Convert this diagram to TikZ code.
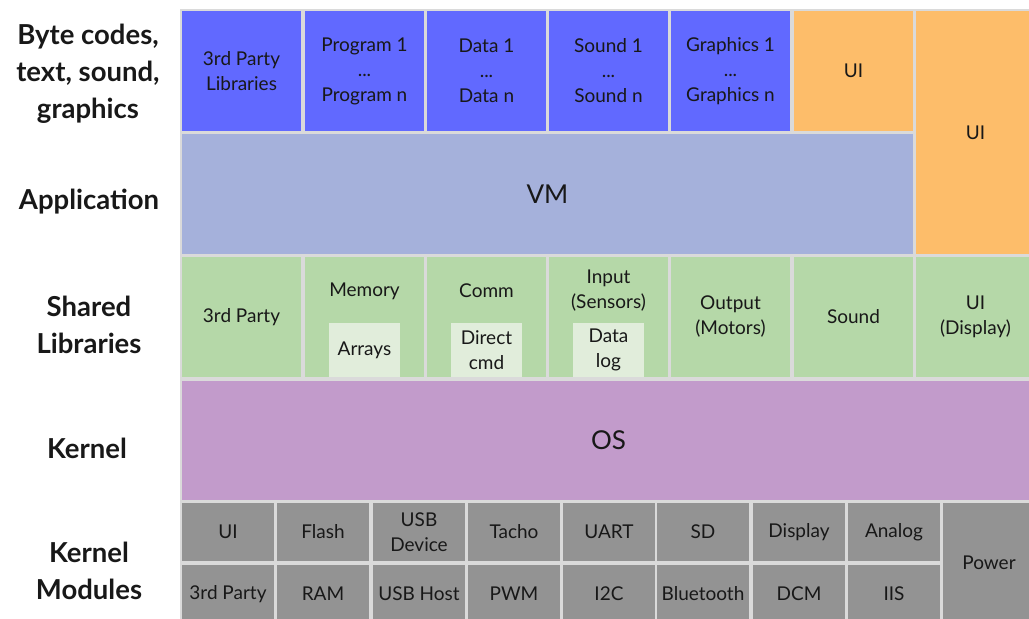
\documentclass[tikz,border=0pt]{standalone}
\usepackage{fontspec}
\setmainfont{Lato}
\usepackage{xcolor}
\usetikzlibrary{positioning}

\definecolor{framecol}{RGB}{218,218,218}
\definecolor{bytecol}{RGB}{97,105,255}
\definecolor{vmcol}{RGB}{165,177,219}
\definecolor{uicol}{RGB}{253,189,106}
\definecolor{libcol}{RGB}{181,216,168}
\definecolor{subcol}{RGB}{225,237,219}
\definecolor{oscol}{RGB}{194,155,203}
\definecolor{modcol}{RGB}{147,147,147}
\definecolor{inkcol}{RGB}{24,24,24}

\tikzset{
  cell/.style={inner sep=0pt, minimum width=119pt, minimum height=120pt,
    align=center, text=inkcol, font=\fontsize{19}{25}\selectfont},
  bytecell/.style={cell, fill=bytecol},
  uicell/.style={cell, fill=uicol},
  libcell/.style={cell, fill=libcol},
  subcell/.style={cell, fill=subcol, minimum width=71pt, minimum height=54pt},
  modcell/.style={cell, fill=modcol, minimum width=92pt, minimum height=58pt},
  celltext/.style={inner sep=0pt, align=center, text=inkcol,
    font=\fontsize{19}{25}\selectfont},
  bigtext/.style={font=\fontsize{26}{30}\selectfont},
  layer/.style={inner sep=0pt, align=center, text=inkcol,
    font=\bfseries\fontsize{27.5}{37}\selectfont}
}

\begin{document}
\begin{tikzpicture}[x=1pt, y=-1pt]
  \useasboundingbox (0,0) rectangle (1029,619);
  \clip (0,0) rectangle (1029,619);
  \fill[framecol] (180,9) rectangle (1040,630);

  % layer names
  \node[layer] (lbyte) at (88,74) {Byte codes,\\text, sound,\\graphics};
  \node[layer] (lapp) at (89,202) {Application};
  \node[layer] (llib) at (89,325) {Shared\\Libraries};
  \node[layer] (lkern) at (87,448) {Kernel};
  \node[layer] (lmod) at (89,571) {Kernel\\Modules};

  % byte codes row
  \node[bytecell] (third) at (241.5,71) {3rd Party\\Libraries};
  \node[bytecell] (prog) at (364.5,71) {Program 1\\...\\Program n};
  \node[bytecell] (data) at (486.5,71) {Data 1\\...\\Data n};
  \node[bytecell] (sound) at (608.5,71) {Sound 1\\...\\Sound n};
  \node[bytecell] (gfx) at (730.5,71) {Graphics 1\\...\\Graphics n};
  \node[uicell] (appui) at (853.5,71) {UI};
  \node[uicell, minimum height=243pt] (ui) at (975.5,132.5) {UI};

  % application
  \node[cell, fill=vmcol, bigtext, minimum width=731pt] (vm) at (547.5,194) {VM};

  % shared libraries
  \node[libcell] (libthird) at (241.5,317) {3rd Party};
  \node[libcell] (mem) at (364.5,317) {};
  \node[celltext] (memt) at (364.5,291) {Memory};
  \node[subcell] (arrays) at (364.5,350) {Arrays};
  \node[libcell] (comm) at (486.5,317) {};
  \node[celltext] (commt) at (486.5,291) {Comm};
  \node[subcell] (direct) at (486.5,350) {Direct\\cmd};
  \node[libcell] (input) at (608.5,317) {};
  \node[celltext] (inputt) at (608.5,291) {Input\\(Sensors)};
  \node[subcell] (datalog) at (608.5,350) {Data\\log};
  \node[libcell] (output) at (730.5,317) {Output\\(Motors)};
  \node[libcell] (libsound) at (853.5,317) {Sound};
  \node[libcell] (display) at (975.5,317) {UI\\(Display)};

  % kernel
  \node[cell, fill=oscol, bigtext, minimum width=853pt, minimum height=119pt] (os) at (608.5,440.5) {OS};

  % kernel modules
  \node[modcell] (mui) at (228,532) {UI};
  \node[modcell] (flash) at (323,532) {Flash};
  \node[modcell] (usbdev) at (419,532) {USB\\Device};
  \node[modcell] (tacho) at (514,532) {Tacho};
  \node[modcell] (uart) at (609,532) {UART};
  \node[modcell] (sd) at (703,532) {SD};
  \node[modcell] (disp) at (799,532) {Display};
  \node[modcell] (analog) at (894,532) {Analog};
  \node[modcell] (mthird) at (228,594) {3rd Party};
  \node[modcell] (ram) at (323,594) {RAM};
  \node[modcell] (usbhost) at (419,594) {USB Host};
  \node[modcell] (pwm) at (514,594) {PWM};
  \node[modcell] (itwoc) at (609,594) {I2C};
  \node[modcell] (bt) at (703,594) {Bluetooth};
  \node[modcell] (dcm) at (799,594) {DCM};
  \node[modcell] (iis) at (894,594) {IIS};
  \node[modcell, minimum height=120pt] (power) at (989,563) {Power};
\end{tikzpicture}
\end{document}
